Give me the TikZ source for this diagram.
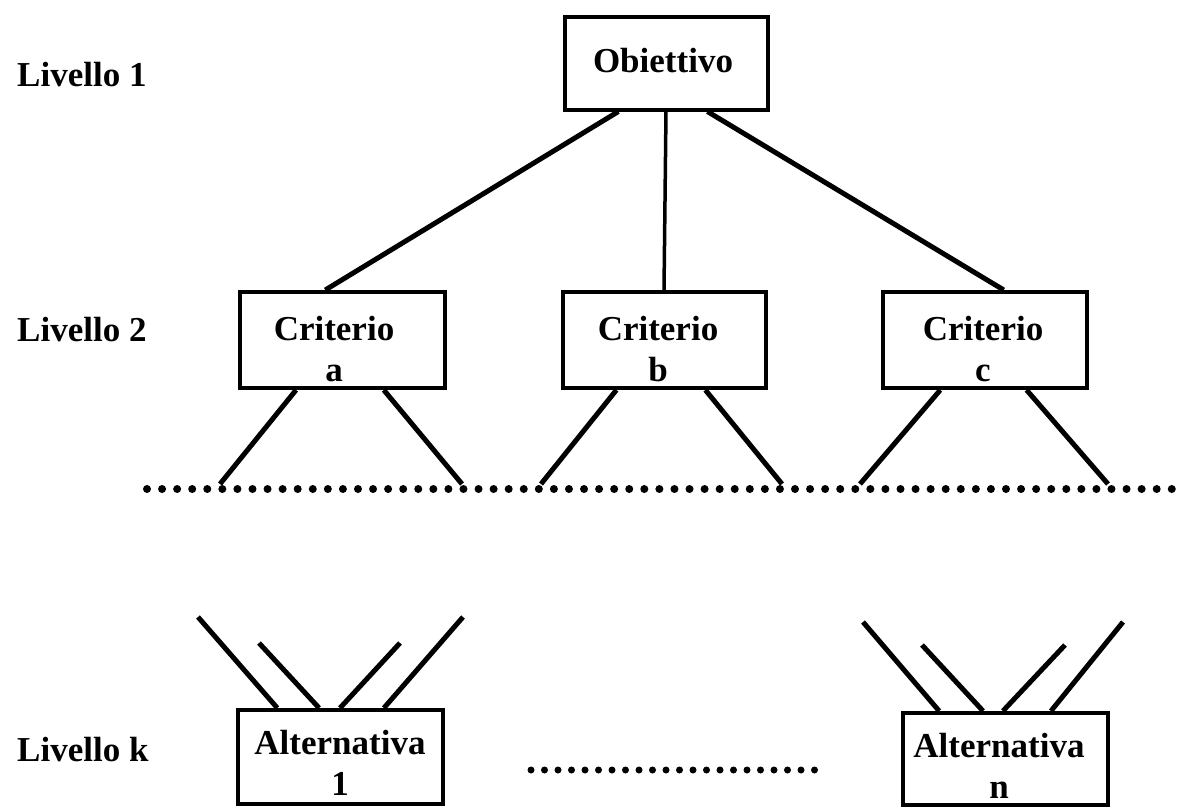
\documentclass[tikz,border=0pt]{standalone}
\usepackage{fontspec}
\setmainfont{Liberation Serif}
\usetikzlibrary{calc}
\begin{document}
\begin{tikzpicture}[x=1pt,y=-1pt,
  box/.style={draw=black, line width=4pt, fill=white, inner sep=0pt},
  txt/.style={align=center, inner sep=0pt, font=\fontsize{35}{41}\selectfont\bfseries},
  link/.style={line width=5pt},
  thinlink/.style={line width=3.5pt},
  lvl/.style={anchor=west, inner sep=0pt, font=\fontsize{35}{41}\selectfont\bfseries},
  dots/.style={line width=8pt, line cap=round, dash pattern=on 0pt off 15.07pt},
  dotsb/.style={line width=7pt, line cap=round, dash pattern=on 0pt off 13.5pt}]
\useasboundingbox (0,0) rectangle (1181,807);
% labels
\node[lvl] (l1) at (17,75) {Livello 1};
\node[lvl] (l2) at (17,330) {Livello 2};
\node[lvl] (lk) at (17,750) {Livello k};
% boxes
\node[box, minimum width=203pt, minimum height=93pt] (obj) at (666,63) {};
\node[txt] (tobj) at (663,61) {Obiettivo};
\node[box, minimum width=205pt, minimum height=96pt] (ca) at (342,340) {};
\node[txt] (tca) at (334,349) {Criterio\\a};
\node[box, minimum width=203pt, minimum height=96pt] (cb) at (664,340) {};
\node[txt] (tcb) at (658,349) {Criterio\\b};
\node[box, minimum width=204pt, minimum height=96pt] (cc) at (985,340) {};
\node[txt] (tcc) at (983,349) {Criterio\\c};
\node[box, minimum width=205pt, minimum height=94pt] (a1) at (340,757) {};
\node[txt] (ta1) at (340,763) {Alternativa\\1};
\node[box, minimum width=205pt, minimum height=92pt] (an) at (1005,759) {};
\node[txt] (tan) at (999,766) {Alternativa\\n};
% level 1 -> level 2
\draw[link] ($(obj.south west)!0.27!(obj.south east)$) -- ($(ca.north west)!0.42!(ca.north east)$);
\draw[thinlink] (obj.south) -- (cb.north);
\draw[link] ($(obj.south west)!0.70!(obj.south east)$) -- ($(cc.north west)!0.59!(cc.north east)$);
% dotted line
\coordinate (dl) at (147,489);
\coordinate (dr) at (1172,489);
\draw[dots] (dl) -- (dr);
% criteria legs
\coordinate (ca1) at (220,484); \coordinate (ca2) at (462,484);
\coordinate (cb1) at (541,484); \coordinate (cb2) at (782,484);
\coordinate (cc1) at (860,484); \coordinate (cc2) at (1108,484);
\draw[link] ($(ca.south west)!0.28!(ca.south east)$) -- (ca1);
\draw[link] ($(ca.south west)!0.70!(ca.south east)$) -- (ca2);
\draw[link] ($(cb.south west)!0.27!(cb.south east)$) -- (cb1);
\draw[link] ($(cb.south west)!0.70!(cb.south east)$) -- (cb2);
\draw[link] ($(cc.south west)!0.285!(cc.south east)$) -- (cc1);
\draw[link] ($(cc.south west)!0.70!(cc.south east)$) -- (cc2);
% alternative 1 legs
\coordinate (p11) at (198,617); \coordinate (p12) at (259,643);
\coordinate (p13) at (400,643); \coordinate (p14) at (463,617);
\draw[link] ($(a1.north west)!0.20!(a1.north east)$) -- (p11);
\draw[link] ($(a1.north west)!0.40!(a1.north east)$) -- (p12);
\draw[link] ($(a1.north west)!0.50!(a1.north east)$) -- (p13);
\draw[link] ($(a1.north west)!0.71!(a1.north east)$) -- (p14);
% alternative n legs
\coordinate (pn1) at (863,622); \coordinate (pn2) at (922,645);
\coordinate (pn3) at (1065,645); \coordinate (pn4) at (1123,622);
\draw[link] ($(an.north west)!0.185!(an.north east)$) -- (pn1);
\draw[link] ($(an.north west)!0.395!(an.north east)$) -- (pn2);
\draw[link] ($(an.north west)!0.49!(an.north east)$) -- (pn3);
\draw[link] ($(an.north west)!0.72!(an.north east)$) -- (pn4);
% bottom dotted line
\coordinate (bl) at (531,770);
\coordinate (br) at (828,770);
\draw[dotsb] (bl) -- (br);
\end{tikzpicture}
\end{document}
